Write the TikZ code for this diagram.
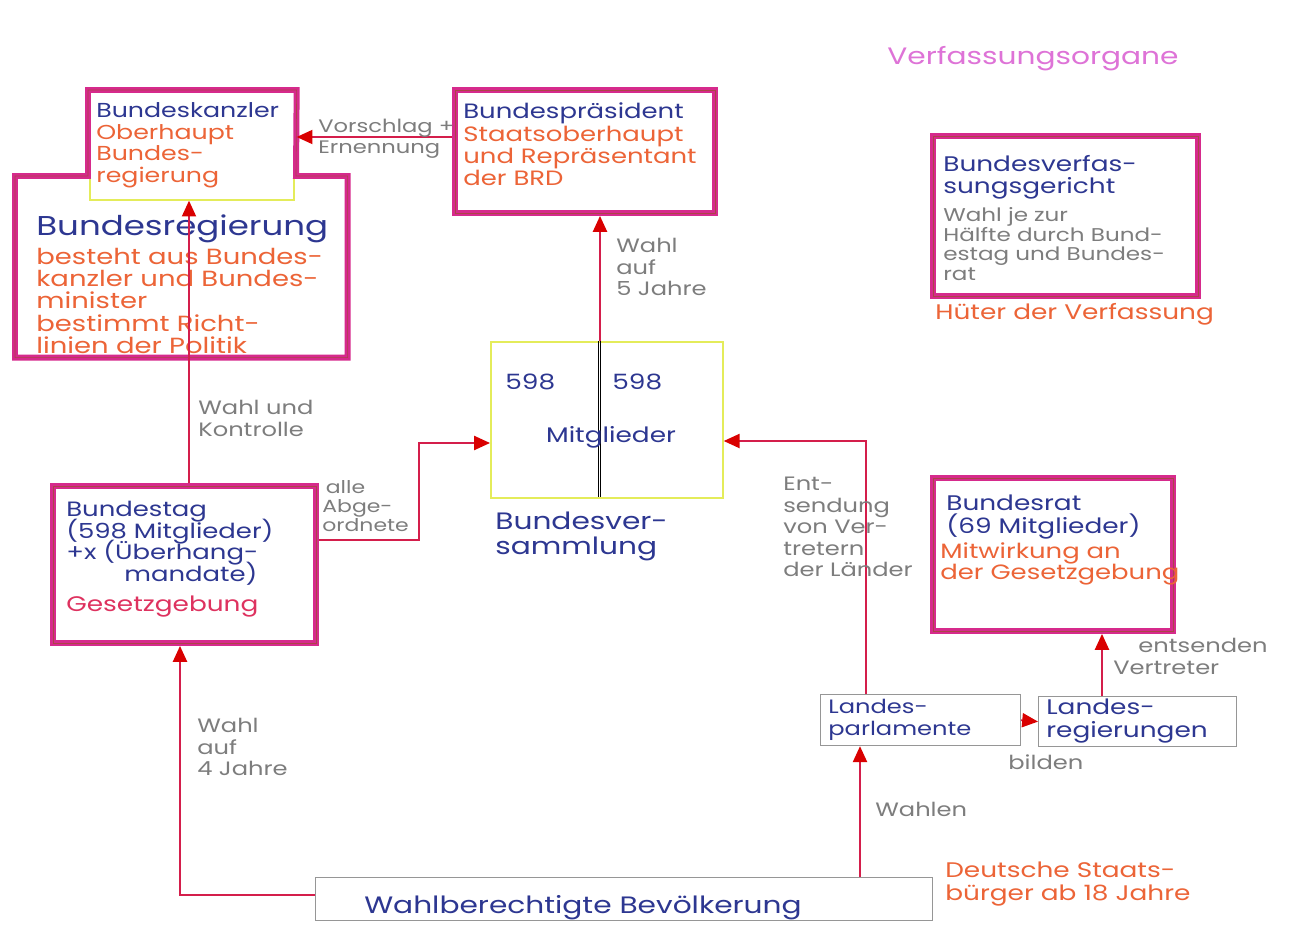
\documentclass[tikz,border=0pt]{standalone}
\usepackage{fontspec}
\setmainfont[FakeStretch=1.25]{Poppins}
\usetikzlibrary{arrows.meta}
\definecolor{mag}{RGB}{214,42,140}
\definecolor{brn}{RGB}{170,70,70}
\definecolor{ink}{RGB}{45,55,145}
\definecolor{ora}{RGB}{236,100,55}
\definecolor{gry}{RGB}{125,125,125}
\definecolor{crim}{RGB}{222,50,95}
\definecolor{pnk}{RGB}{222,115,215}
\definecolor{arrc}{RGB}{212,30,75}
\definecolor{ylw}{RGB}{228,236,90}
\definecolor{thin}{RGB}{150,150,150}
\tikzset{
  organ/.style={draw=mag, line width=3.4pt, inner sep=0, anchor=north west, postaction={draw=brn, line width=0.35pt}},
  plain/.style={draw=thin, line width=0.7pt, inner sep=0, anchor=north west},
  ghost/.style={inner sep=0, anchor=north west},
  txt/.style={inner sep=0, anchor=north west, align=left, font=\fontsize{11}{12.2}\selectfont},
  big/.style={txt, font=\fontsize{12}{12.6}\selectfont},
  arr/.style={draw=arrc, line width=1pt, -{Triangle[width=8pt,length=9pt,color=red!85!black]}}
}
\begin{document}
\begin{tikzpicture}[x=0.02cm,y=-0.02cm]
\lineskiplimit=-20pt \lineskip=0pt
\useasboundingbox (0,0) rectangle (1289,930);
\fill[white] (0,0) rectangle (1289,930);

% ---- Bundeskanzler / Bundesregierung (T shape)
\node[ghost, minimum width=4.16cm, minimum height=2.2cm] (kanzler) at (88,90) {};
\node[ghost, minimum width=6.64cm, minimum height=3.62cm] (regierung) at (15,176) {};
\draw[ylw, line width=0.8pt] (90,176) -- (90,200) -- (294,200) -- (294,176);
\draw[mag, line width=3.4pt, line join=miter]
  (kanzler.north west) -- (kanzler.north east) -- (296,176) -- (regierung.north east)
  -- (regierung.south east) -- (regierung.south west) -- (regierung.north west) -- (88,176) -- cycle;
\draw[brn, line width=0.35pt]
  (kanzler.north west) -- (kanzler.north east) -- (296,176) -- (regierung.north east)
  -- (regierung.south east) -- (regierung.south west) -- (regierung.north west) -- (88,176) -- cycle;
\node[txt, font=\fontsize{11.5}{12.4}\selectfont] (tkanzler) at (96,102) {\color{ink}Bundeskanzler\\\color{ora}Oberhaupt\\\color{ora}Bundes-\\\color{ora}regierung};
\node[txt, font=\fontsize{15.5}{16}\selectfont, text=ink] (tregtitle) at (36,214) {Bundesregierung};
\node[txt, text=ora, font=\fontsize{12.5}{12.6}\selectfont] (treg) at (36,248) {besteht aus Bundes-\\kanzler und Bundes-\\minister\\bestimmt Richt-\\linien der Politik};

% ---- Bundespraesident
\node[organ, minimum width=5.2cm, minimum height=2.46cm] (praes) at (452,87) {};
\node[txt, font=\fontsize{11.8}{12.4}\selectfont] (tpraes) at (463,102) {\color{ink}Bundespräsident\\[1pt]\color{ora}Staatsoberhaupt\\\color{ora}und Repräsentant\\\color{ora}der BRD};

% ---- Bundesversammlung
\node[ghost, draw=ylw, line width=1pt, minimum width=4.64cm, minimum height=3.12cm] (bv) at (490,341) {};
\draw[thin, line width=0.5pt] (598,341) -- (598,497);
\draw[thin, line width=0.5pt] (600.5,341) -- (600.5,497);
\node[big, text=ink] (n1) at (505,374) {598};
\node[big, text=ink] (n2) at (612,374) {598};
\node[big, text=ink, anchor=north] (mit) at (611,426) {Mitglieder};
\node[txt, text=ink, font=\fontsize{13.5}{14}\selectfont] (tbv) at (495,512) {Bundesver-\\sammlung};

% ---- Bundestag
\node[organ, minimum width=5.26cm, minimum height=3.14cm] (tag) at (50,483) {};
\node[txt, text=ink, font=\fontsize{11.8}{12.3}\selectfont] (ttag) at (66,501) {Bundestag\\(598 Mitglieder)\\+x (Überhang-\\\hspace*{2.8em}mandate)};
\node[big, text=crim] (tges) at (66,596) {Gesetzgebung};

% ---- Bundesverfassungsgericht
\node[txt, text=pnk, font=\fontsize{13.5}{14}\selectfont] (title) at (887,46) {Verfassungsorgane};
\node[organ, minimum width=5.3cm, minimum height=3.2cm] (bverfg) at (930,133) {};
\node[big, text=ink] (tbverfg) at (943,155) {Bundesverfas-\\sungsgericht};
\node[txt, text=gry, font=\fontsize{10.5}{11.2}\selectfont] (tbverfg2) at (943,207) {Wahl je zur\\Hälfte durch Bund-\\estag und Bundes-\\rat};
\node[big, text=ora] (hueter) at (935,303) {Hüter der Verfassung};

% ---- Bundesrat
\node[organ, minimum width=4.8cm, minimum height=3.06cm] (brat) at (930,475) {};
\node[big, text=ink] (tbrat) at (946,495) {Bundesrat\\(69 Mitglieder)};
\node[big, text=ora, font=\fontsize{11.8}{12.4}\selectfont] (tbrat2) at (940,542) {Mitwirkung an\\der Gesetzgebung};

% ---- Laender
\node[plain, minimum width=4cm, minimum height=1.02cm] (lp) at (820,694) {};
\node[txt, text=ink] (tlp) at (828,699) {Landes-\\parlamente};
\node[plain, minimum width=3.96cm, minimum height=1cm] (lr) at (1038,696) {};
\node[big, text=ink] (tlr) at (1046,699) {Landes-\\regierungen};

% ---- Wahlberechtigte
\node[plain, minimum width=12.34cm, minimum height=0.86cm] (wb) at (315,877) {};
\node[txt, text=ink, anchor=center, font=\fontsize{13.5}{14}\selectfont] (twb) at (583,908) {Wahlberechtigte Bevölkerung};
\node[big, text=ora] (tdeu) at (945,862) {Deutsche Staats-\\bürger ab 18 Jahre};

% ---- helper coordinates
\coordinate (yV) at (0,137);
\coordinate (xA) at (189,0);
\coordinate (xB) at (600,0);
\coordinate (yT) at (0,540);
\coordinate (yD) at (0,443);
\coordinate (yE) at (0,441);
\coordinate (xL) at (866,0);
\coordinate (xR) at (1102,0);
\coordinate (yW) at (0,895);
\coordinate (xW) at (180,0);
\coordinate (xP) at (860,0);

% ---- connectors
\draw[arr] (tag.north -| xA) -- (kanzler.south -| xA);
\draw[arr] (praes.west |- yV) -- (kanzler.east |- yV);
\draw[arr] (bv.north -| xB) -- (praes.south -| xB);
\draw[arr] (tag.east |- yT) -- ++(100,0) |- (bv.west |- yD);
\draw[arr] (lp.north -| xL) |- (bv.east |- yE);
\draw[arr] (lp.east) -- (lr.west);
\draw[arr] (lr.north -| xR) -- (brat.south -| xR);
\draw[arr] (wb.west |- yW) -| (tag.south -| xW);
\draw[arr] (wb.north -| xP) -- (lp.south -| xP);

% ---- connector labels
\node[txt, text=gry, font=\fontsize{10.3}{12}\selectfont] (lvor) at (318,119) {Vorschlag +\\Ernennung};
\node[txt, text=gry] (l5) at (616,238) {Wahl\\auf\\5 Jahre};
\node[txt, text=gry] (lwk) at (198,400) {Wahl und\\Kontrolle};
\node[txt, text=gry, font=\fontsize{10}{10.8}\selectfont] (labg) at (322,480) {\hspace*{0.2em}alle\\Abge-\\ordnete};
\node[txt, text=gry] (lent) at (783,477) {Ent-\\sendung\\von Ver-\\tretern\\der Länder};
\node[txt, text=gry] (lbild) at (1008,754) {bilden};
\node[txt, text=gry] (lents) at (1113,638) {\hspace*{1.3em}entsenden\\Vertreter};
\node[txt, text=gry] (l4) at (197,718) {Wahl\\auf\\4 Jahre};
\node[txt, text=gry] (lwah) at (875,802) {Wahlen};
\end{tikzpicture}
\end{document}
